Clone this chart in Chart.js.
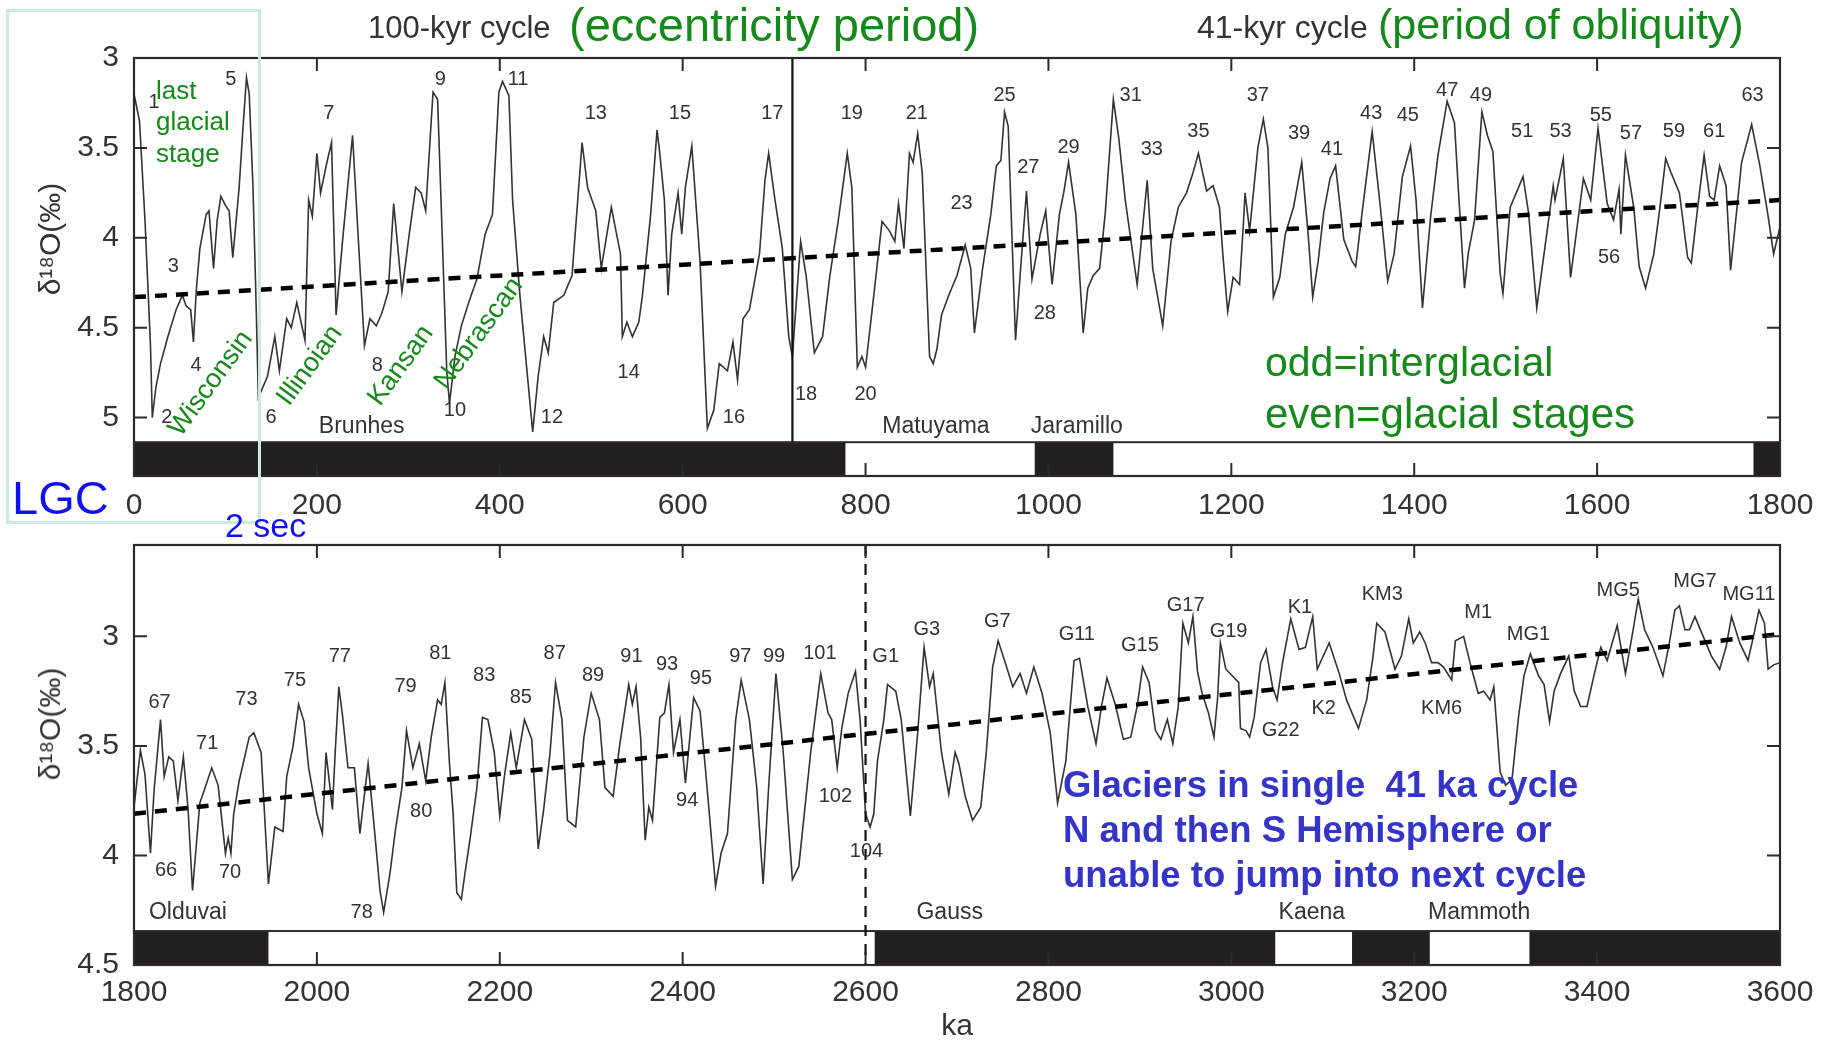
<!DOCTYPE html>
<html>
<head>
<meta charset="utf-8">
<script src="https://cdn.jsdelivr.net/npm/chart.js@4.4.1/dist/chart.umd.min.js"></script>
<style>
  body { margin: 0; background: #fff; }
  #wrap { position: relative; width: 1831px; height: 1041px; overflow: hidden; font-family: "Liberation Sans", Arial, sans-serif; }
  .panel { position: absolute; left: 0; width: 1831px; height: 520px; }
  .t { position: absolute; white-space: pre; line-height: 1; transform: translateY(-50%); }
  .green { color: #15891a; }
  .rot { transform: translate(-50%, -50%) rotate(-54deg); }
  .ytitle { transform: translate(-50%, -50%) rotate(-90deg); font-size: 30px; color: #333; }
</style>
</head>
<body>
<div id="wrap">
  <div class="panel" style="top:0"><canvas id="topChart"></canvas></div>
  <div class="panel" style="top:521px"><canvas id="bottomChart"></canvas></div>

  <div style="position:absolute;left:6px;top:9px;width:249px;height:509px;border:3px solid #c9ecdd;"></div>

  <div class="t" style="left:368px;top:27px;font-size:31px;color:#333">100-kyr cycle</div>
  <div class="t green" style="left:569px;top:24px;font-size:47px">(eccentricity period)</div>
  <div class="t" style="left:1197px;top:27px;font-size:32px;color:#333">41-kyr cycle</div>
  <div class="t green" style="left:1378px;top:24px;font-size:43px">(period of obliquity)</div>

  <div class="t green" style="left:156px;top:90px;font-size:26px">last</div>
  <div class="t green" style="left:156px;top:121px;font-size:26px">glacial</div>
  <div class="t green" style="left:156px;top:153px;font-size:26px">stage</div>

  <div class="t green rot" style="left:210px;top:383px;font-size:27px">Wisconsin</div>
  <div class="t green rot" style="left:309px;top:365px;font-size:27px">Illinoian</div>
  <div class="t green rot" style="left:400px;top:365px;font-size:27px">Kansan</div>
  <div class="t green rot" style="left:478px;top:333px;font-size:27px">Nebrascan</div>

  <div class="t green" style="left:1265px;top:362px;font-size:41px">odd=interglacial</div>
  <div class="t green" style="left:1265px;top:414px;font-size:42px">even=glacial stages</div>

  <div class="t" style="left:12px;top:497px;font-size:47px;color:#1010f0">LGC</div>
  <div class="t" style="left:225px;top:525px;font-size:34px;color:#1010f0">2 sec</div>

  <div class="t" style="left:1063px;top:785px;font-size:36.5px;font-weight:bold;color:#3434c8">Glaciers in single  41 ka cycle</div>
  <div class="t" style="left:1063px;top:830px;font-size:36.5px;font-weight:bold;color:#3434c8">N and then S Hemisphere or</div>
  <div class="t" style="left:1063px;top:875px;font-size:36.5px;font-weight:bold;color:#3434c8">unable to jump into next cycle</div>

  <div class="t ytitle" style="left:50px;top:239px">δ¹⁸O(‰)</div>
  <div class="t ytitle" style="left:50px;top:724px">δ¹⁸O(‰)</div>
  <div class="t" style="left:957px;top:1025px;font-size:30px;color:#333;transform:translate(-50%,-50%)">ka</div>
</div>

<script>
// benthic d18O stack, 0-1800 ka
const topAge = [0,6,12,18,20,24,29,37,46,53,57,62,65,68,72,76,79,82,87,91,95,100,104,108,115,119,123,126,130,133,136,
  141,146,154,159,167,172,178,187,191,195,200,204,211,216,221,228,239,245,252,258,265,271,278,284,293,301,308,314,319,327,332,336,342,345,
  351,358,366,375,384,392,399,403,410,414,422,436,442,448,453,459,470,479,490,496,505,511,522,532,534,539,545,552,556,565,569,572,575,580,
  584,588,595,599,603,610,619,627,634,640,649,655,660,666,673,684,690,694,701,709,716,720,729,735,744,753,761,770,780,785,791,796,800,
  809,818,826,832,836,842,848,852,857,862,870,874,878,883,891,900,909,915,919,928,937,943,948,952,956,964,969,976,982,991,997,1004,1012,
  1017,1022,1030,1038,1043,1049,1056,1062,1071,1077,1084,1097,1108,1114,1125,1134,1142,1151,1158,1164,1173,1180,1187,1191,1196,1202,1209,
  1213,1215,1220,1229,1235,1240,1246,1253,1259,1268,1277,1284,1289,1295,1301,1308,1314,1323,1332,1336,1343,1354,1363,1371,1378,1387,1396,
  1402,1409,1418,1426,1436,1444,1448,1455,1459,1466,1474,1480,1486,1494,1497,1505,1519,1525,1534,1543,1552,1554,1563,1571,1585,1593,1601,
  1611,1618,1624,1626,1631,1640,1646,1653,1662,1668,1675,1681,1690,1699,1703,1710,1717,1723,1728,1734,1741,1746,1752,1758,1769,1778,1787,
  1793,1800];
const topD18O = [3.2,3.35,3.9,4.6,5.0,4.83,4.7,4.55,4.4,4.32,4.38,4.4,4.58,4.3,4.06,3.95,3.87,3.85,4.17,3.9,3.77,3.82,3.85,4.11,3.72,3.4,3.11,3.2,3.7,4.26,4.89,
  4.83,4.77,4.55,4.74,4.45,4.5,4.36,4.57,3.79,3.88,3.53,3.75,3.58,3.47,4.43,4.02,3.43,3.98,4.6,4.45,4.49,4.42,4.3,3.81,4.3,3.98,3.72,3.75,3.85,3.19,3.23,3.83,4.74,4.92,
  4.66,4.49,4.36,4.23,3.98,3.87,3.19,3.13,3.21,3.79,4.32,5.08,4.77,4.55,4.64,4.36,4.32,4.21,3.47,3.72,3.85,4.17,3.83,4.09,4.55,4.47,4.55,4.47,4.32,3.87,3.6,3.4,3.53,3.79,
  4.32,3.98,3.75,3.98,3.72,3.49,4.13,5.06,4.96,4.7,4.74,4.58,4.79,4.45,4.4,4.09,3.68,3.53,3.79,4.06,4.55,4.66,4.02,4.21,4.64,4.55,4.21,3.91,3.53,3.72,4.72,4.66,4.72,
  4.32,3.91,3.96,4.02,3.81,4.06,3.53,3.58,3.42,3.64,4.66,4.7,4.62,4.43,4.32,4.21,4.04,4.17,4.53,4.17,3.87,3.6,3.57,3.3,3.38,4.57,4.21,3.74,4.23,3.98,3.85,4.26,3.87,
  3.74,3.58,3.87,4.53,4.28,4.21,4.17,3.87,3.23,3.45,3.79,4.26,3.68,4.17,4.49,4.02,3.83,3.75,3.64,3.53,3.74,3.71,3.83,4.11,4.41,4.22,4.26,
  3.94,3.75,3.96,3.5,3.34,3.5,4.33,4.22,3.98,3.83,3.58,3.98,4.33,4.13,3.86,3.67,3.6,4.01,4.13,4.16,3.86,3.41,3.83,4.24,4.09,3.66,3.49,
  3.79,4.39,3.88,3.54,3.24,3.36,3.71,4.28,4.09,3.9,3.3,3.43,3.52,4.2,4.31,3.83,3.66,3.86,4.39,4.05,3.71,3.79,3.56,4.22,3.67,3.79,3.39,
  3.81,3.9,3.73,3.98,3.54,3.83,4.16,4.28,4.09,3.86,3.56,3.64,3.75,4.11,4.14,3.83,3.54,3.77,3.79,3.6,3.71,4.18,3.88,3.58,3.37,3.6,3.88,
  4.09,3.94];

// 1800-3600 ka
const bottomAge = [1800,1807,1812,1818,1822,1829,1833,1838,1843,1848,1854,1859,1864,1872,1877,1885,1892,1900,1903,1906,1909,1915,1926,1931,1939,
  1947,1954,1963,1967,1974,1980,1986,1991,2000,2006,2010,2017,2020,2024,2028,2034,2041,2047,2056,2062,2069,2073,2080,2086,2093,2098,2105,
  2112,2119,2125,2132,2136,2140,2145,2149,2153,2158,2162,2168,2175,2181,2187,2194,2200,2205,2212,2218,2227,2235,2242,2248,2255,2261,2268,
  2274,2283,2292,2300,2309,2315,2324,2331,2341,2345,2349,2354,2359,2363,2367,2375,2380,2385,2390,2397,2403,2412,2419,2425,2436,2442,2449,
  2458,2464,2473,2481,2488,2494,2502,2510,2520,2527,2533,2540,2551,2559,2563,2569,2574,2581,2589,2594,2600,2605,2609,2613,2620,2624,2633,
  2639,2649,2657,2664,2670,2674,2683,2691,2698,2702,2709,2717,2726,2732,2739,2745,2752,2761,2769,2776,2784,2793,2802,2810,2819,2828,2834,
  2843,2852,2858,2864,2873,2882,2890,2897,2903,2910,2917,2923,2930,2936,2942,2947,2953,2958,2963,2968,2975,2981,2985,2988,2994,3001,3008,
  3010,3016,3020,3025,3032,3038,3045,3050,3056,3065,3074,3081,3089,3094,3107,3118,3126,3139,3148,3155,3159,3168,3179,3186,3194,3199,3206,
  3212,3219,3226,3232,3241,3245,3254,3261,3270,3276,3283,3287,3294,3300,3307,3314,3320,3327,3336,3342,3348,3353,3360,3369,3375,3382,3389,
  3397,3404,3411,3422,3431,3439,3445,3452,3461,3472,3479,3485,3490,3496,3501,3507,3516,3525,3534,3541,3547,3556,3565,3571,3577,3583,3587,
  3593,3600];
const bottomD18O = [3.78,3.52,3.63,3.99,3.7,3.38,3.64,3.55,3.57,3.75,3.55,3.78,4.16,3.76,3.7,3.6,3.68,3.99,3.92,3.99,3.81,3.66,3.46,3.44,3.53,
  4.13,3.87,3.89,3.64,3.5,3.31,3.39,3.6,3.81,3.9,3.53,3.79,3.53,3.23,3.36,3.6,3.6,3.9,3.58,3.84,4.16,4.26,4.08,3.88,3.69,3.43,3.6,
  3.49,3.66,3.46,3.29,3.31,3.21,3.58,3.81,4.17,4.2,4.08,3.91,3.69,3.37,3.38,3.53,3.82,3.64,3.44,3.6,3.38,3.47,3.97,3.79,3.53,3.21,3.38,
  3.84,3.87,3.46,3.26,3.38,3.69,3.73,3.5,3.22,3.31,3.23,3.46,3.93,3.78,3.84,3.37,3.35,3.22,3.53,3.38,3.67,3.28,3.34,3.61,4.14,3.99,3.9,
  3.38,3.2,3.38,3.69,4.13,3.69,3.17,3.53,4.11,4.05,3.81,3.53,3.17,3.35,3.38,3.6,3.42,3.26,3.16,3.38,3.81,3.87,3.81,3.57,3.38,3.22,3.25,
  3.38,3.82,3.44,3.05,3.23,3.17,3.53,3.72,3.53,3.58,3.73,3.84,3.78,3.53,3.14,3.02,3.11,3.23,3.17,3.26,3.14,3.26,3.44,3.76,3.57,3.11,3.1,
  3.32,3.49,3.32,3.19,3.31,3.47,3.46,3.32,3.14,3.21,3.43,3.47,3.38,3.49,3.32,2.94,3.03,2.91,3.16,3.26,3.35,3.46,3.28,3.03,3.15,3.18,3.21,
  3.42,3.43,3.46,3.37,3.12,3.06,3.23,3.29,3.12,2.92,3.06,3.05,2.91,3.15,3.03,3.17,3.29,3.42,3.29,3.09,2.94,2.98,3.15,3.09,2.92,3.03,2.98,
  3.03,3.12,3.12,3.14,3.2,3.02,3.0,3.12,3.26,3.25,3.29,3.23,3.62,3.68,3.65,3.37,3.18,3.08,3.18,3.22,3.39,3.25,3.17,3.09,3.25,3.32,3.32,
  3.17,3.05,3.11,2.95,3.17,2.98,2.83,2.97,3.05,3.18,3.03,2.88,2.86,2.97,2.97,2.91,3.0,3.09,3.15,3.05,2.91,3.03,3.11,3.0,2.88,2.94,3.15,
  3.13,3.12];

// long-term trend lines
const topTrendAge = [0, 1800];
const topTrendD18O = [4.33, 3.79];
const bottomTrendAge = [1800, 3600];
const bottomTrendD18O = [3.81, 2.99];

// normal polarity chrons (black in the bar), ka
const topNormal = [[0, 778], [985, 1071], [1771, 1800]];
const bottomNormal = [[1800, 1947], [2610, 3048], [3132, 3217], [3326, 3600]];

// tick values
const topXTicks = [0, 200, 400, 600, 800, 1000, 1200, 1400, 1600, 1800];
const topYTicks = [3, 3.5, 4, 4.5, 5];
const bottomXTicks = [1800, 2000, 2200, 2400, 2600, 2800, 3000, 3200, 3400, 3600];
const bottomYTicks = [3, 3.5, 4, 4.5];

// marine isotope stage labels: [text, ka, d18O]
const topStages = [['1',22,3.25],['5',106,3.12],['7',213,3.31],['9',335,3.12],['11',420,3.12],['13',505,3.31],['15',597,3.31],
  ['17',698,3.31],['19',785,3.31],['21',856,3.31],['25',952,3.21],['27',978,3.61],['29',1022,3.5],['31',1090,3.21],['33',1113,3.51],
  ['35',1164,3.41],['37',1229,3.21],['39',1274,3.42],['41',1310,3.51],['43',1353,3.31],['45',1393,3.32],['47',1436,3.18],['49',1473,3.21],
  ['51',1518,3.41],['53',1560,3.41],['55',1604,3.32],['57',1637,3.42],['59',1684,3.41],['61',1728,3.41],['63',1770,3.21],
  ['3',43,4.16],['4',68,4.71],['2',36,5.0],['6',150,5.0],['8',266,4.71],['10',351,4.96],['12',457,5.0],['14',541,4.75],['16',656,5.0],
  ['18',735,4.87],['20',800,4.87],['23',905,3.81],['28',996,4.42],['56',1613,4.11]];
const topChrons = [['Brunhes',249,5.05],['Matuyama',877,5.05],['Jaramillo',1031,5.05]];

const bottomStages = [['67',1828,3.30],['71',1880,3.49],['73',1923,3.29],['75',1976,3.2],['77',2025,3.09],['79',2097,3.23],['81',2135,3.08],
  ['83',2183,3.18],['85',2223,3.28],['87',2260,3.08],['89',2302,3.18],['91',2344,3.09],['93',2383,3.13],['95',2420,3.19],['97',2463,3.09],
  ['99',2500,3.09],['101',2550,3.08],['G1',2622,3.09],['G3',2667,2.97],['G7',2744,2.93],['G11',2831,2.99],['G15',2900,3.04],['G17',2950,2.86],
  ['G19',2997,2.98],['K1',3075,2.87],['KM3',3165,2.81],['M1',3270,2.89],['MG1',3325,2.99],['MG5',3423,2.79],['MG7',3507,2.75],['MG11',3566,2.81],
  ['K2',3101,3.33],['G22',3054,3.43],['KM6',3230,3.33],['66',1835,4.07],['70',1905,4.08],['78',2049,4.26],['80',2114,3.8],['94',2405,3.75],
  ['102',2567,3.73],['104',2601,3.98]];
const bottomChrons = [['Olduvai',1859,4.26],['Gauss',2692,4.26],['Kaena',3088,4.26],['Mammoth',3271,4.26]];

const toPoints = (xs, ys) => xs.map((v, i) => ({x: v, y: ys[i]}));

const panelDecor = {
  id: 'panelDecor',
  beforeDatasetsDraw(chart, args, o) {
    const {ctx, chartArea: a, scales: {x, y}} = chart;
    const y0 = y.getPixelForValue(o.barFrom), y1 = y.getPixelForValue(o.barTo);
    ctx.save();
    ctx.fillStyle = '#231f20';
    o.normal.forEach(([s, e]) => {
      const x0 = x.getPixelForValue(s), x1 = x.getPixelForValue(e);
      ctx.fillRect(x0, y0, x1 - x0, y1 - y0);
    });
    ctx.strokeStyle = '#2b2b2b';
    ctx.lineWidth = 2;
    ctx.strokeRect(a.left, y0, a.right - a.left, y1 - y0);
    ctx.restore();
  },
  afterDraw(chart, args, o) {
    const {ctx, chartArea: a, scales: {x, y}} = chart;
    ctx.save();
    ctx.strokeStyle = '#2b2b2b';
    ctx.lineWidth = 2.2;
    ctx.strokeRect(a.left, a.top, a.right - a.left, a.bottom - a.top);
    ctx.lineWidth = 2;
    ctx.beginPath();
    o.xTicks.forEach(v => {
      const px = x.getPixelForValue(v);
      ctx.moveTo(px, a.top); ctx.lineTo(px, a.top + 13);
      ctx.moveTo(px, a.bottom); ctx.lineTo(px, a.bottom - 13);
    });
    o.yTicks.forEach(v => {
      const py = y.getPixelForValue(v);
      ctx.moveTo(a.left, py); ctx.lineTo(a.left + 13, py);
      ctx.moveTo(a.right, py); ctx.lineTo(a.right - 13, py);
    });
    ctx.stroke();
    ctx.fillStyle = '#333';
    ctx.textAlign = 'center';
    ctx.textBaseline = 'middle';
    ctx.font = '20px "Liberation Sans", Arial, sans-serif';
    o.stages.forEach(([t, k, v]) => ctx.fillText(t, x.getPixelForValue(k), y.getPixelForValue(v)));
    ctx.font = '23px "Liberation Sans", Arial, sans-serif';
    o.chrons.forEach(([t, k, v]) => ctx.fillText(t, x.getPixelForValue(k), y.getPixelForValue(v)));
    ctx.restore();
  }
};

function makePanel(id, p) {
  const tickFont = {family: '"Liberation Sans", Arial, sans-serif', size: 30};
  new Chart(document.getElementById(id), {
    type: 'line',
    data: {
      datasets: [
        {data: toPoints(p.trendAge, p.trendD18O), borderColor: '#000', borderWidth: 4.5, borderDash: [12, 9], pointRadius: 0, order: 0},
        {data: p.marker, borderColor: '#111', borderWidth: 2.2, borderDash: p.markerDash, pointRadius: 0, order: 1},
        {data: toPoints(p.age, p.d18O), borderColor: '#333', borderWidth: 1.6, pointRadius: 0, tension: 0, order: 2}
      ]
    },
    options: {
      responsive: true,
      maintainAspectRatio: false,
      animation: false,
      layout: {padding: {left: 0, top: p.padTop, right: 51, bottom: 0}},
      plugins: {
        legend: {display: false},
        tooltip: {enabled: false},
        panelDecor: {barFrom: p.barFrom, barTo: p.yMax, normal: p.normal, xTicks: p.xTicks, yTicks: p.yTicks,
          stages: p.stages, chrons: p.chrons}
      },
      scales: {
        x: {
          type: 'linear', min: p.xTicks[0], max: p.xTicks[p.xTicks.length - 1],
          grid: {display: false, drawTicks: false}, border: {display: false},
          ticks: {font: tickFont, color: '#333', padding: p.xPad, callback: v => String(v)},
          afterBuildTicks: s => { s.ticks = p.xTicks.map(v => ({value: v})); },
          afterFit: s => { s.height = p.xAxisH; s.paddingLeft = 0; s.paddingRight = 0; }
        },
        y: {
          type: 'linear', reverse: true, min: p.yMin, max: p.yMax,
          grid: {display: false, drawTicks: false}, border: {display: false},
          ticks: {font: tickFont, color: '#333', padding: 15, callback: v => String(v)},
          afterBuildTicks: s => { s.ticks = p.yTicks.map(v => ({value: v})); },
          afterFit: s => { s.width = 134; s.paddingTop = 0; s.paddingBottom = 0; }
        }
      }
    },
    plugins: [panelDecor]
  });
}

makePanel('topChart', {
  age: topAge, d18O: topD18O, trendAge: topTrendAge, trendD18O: topTrendD18O,
  marker: [{x: 720, y: 3}, {x: 720, y: 5.137}], markerDash: [],
  yMin: 3, yMax: 5.325, barFrom: 5.137, padTop: 58, xAxisH: 44, xPad: 12,
  normal: topNormal, xTicks: topXTicks, yTicks: topYTicks, stages: topStages, chrons: topChrons
});

makePanel('bottomChart', {
  age: bottomAge, d18O: bottomD18O, trendAge: bottomTrendAge, trendD18O: bottomTrendD18O,
  marker: [{x: 2600, y: 2.583}, {x: 2600, y: 4.5}], markerDash: [11, 8],
  yMin: 2.583, yMax: 4.5, barFrom: 4.345, padTop: 24, xAxisH: 76, xPad: 10,
  normal: bottomNormal, xTicks: bottomXTicks, yTicks: bottomYTicks, stages: bottomStages, chrons: bottomChrons
});
</script>
</body>
</html>
